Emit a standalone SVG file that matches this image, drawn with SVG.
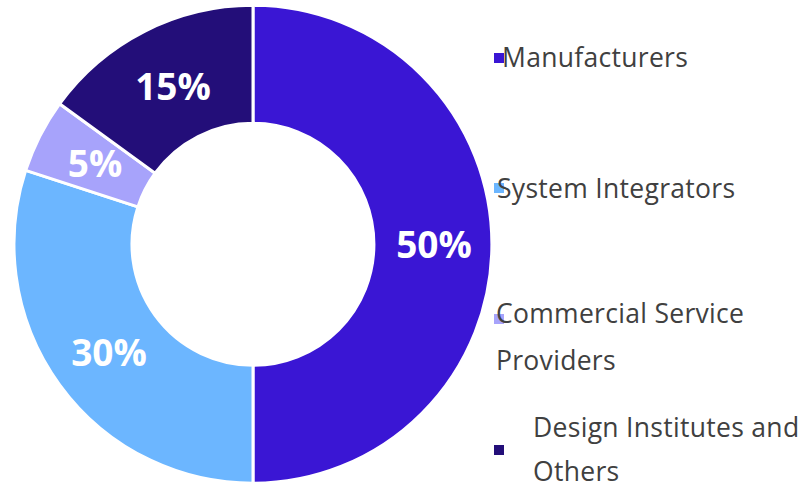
<svg xmlns="http://www.w3.org/2000/svg" width="805" height="489" viewBox="0 0 805 489">
<style>
.seg{stroke:#fff;stroke-width:3;stroke-linejoin:miter}
.pct{font-family:"Open Sans","DejaVu Sans",sans-serif;font-weight:bold;font-size:37px;fill:#fff;text-anchor:middle}
.leg{font-family:"Open Sans","DejaVu Sans",sans-serif;font-size:26.5px;letter-spacing:0.3px;fill:#404040}
</style>
<rect width="805" height="489" fill="#fff"/>
<g id="connectors"></g>
<g id="manufacturers">
<path class="seg" fill="#3A16D4" d="M253,5.3 A239,239 0 0 1 253,483.3 L253,365.3 A121,121 0 0 0 253,123.3 Z"/>
<text class="pct" x="434" y="258">50%</text>
</g>
<g id="system-integrators">
<path class="seg" fill="#6CB6FF" d="M253,483.3 A239,239 0 0 1 25.7,170.4 L137.9,206.9 A121,121 0 0 0 253,365.3 Z"/>
<text class="pct" x="109" y="366">30%</text>
</g>
<g id="commercial-service-providers">
<path class="seg" fill="#A7A3FB" d="M25.7,170.4 A239,239 0 0 1 59.6,103.8 L155.1,173.2 A121,121 0 0 0 137.9,206.9 Z"/>
<text class="pct" x="95" y="177">5%</text>
</g>
<g id="design-institutes">
<path class="seg" fill="#230E79" d="M59.6,103.8 A239,239 0 0 1 253,5.3 L253,123.3 A121,121 0 0 0 155.1,173.2 Z"/>
<text class="pct" x="173" y="100">15%</text>
</g>
<g id="legend">
<rect x="494" y="53" width="10" height="10" fill="#3A16D4"/>
<text class="leg" x="502" y="67">Manufacturers</text>
<rect x="494" y="183" width="10" height="10" fill="#6CB6FF"/>
<text class="leg" x="497" y="198">System Integrators</text>
<rect x="494" y="314" width="10" height="10" fill="#A7A3FB"/>
<text class="leg" x="496" y="323">Commercial Service</text>
<text class="leg" x="496" y="370">Providers</text>
<rect x="494" y="445" width="10" height="10" fill="#230E79"/>
<text class="leg" x="533" y="437">Design Institutes and</text>
<text class="leg" x="533" y="481">Others</text>
</g>
</svg>
